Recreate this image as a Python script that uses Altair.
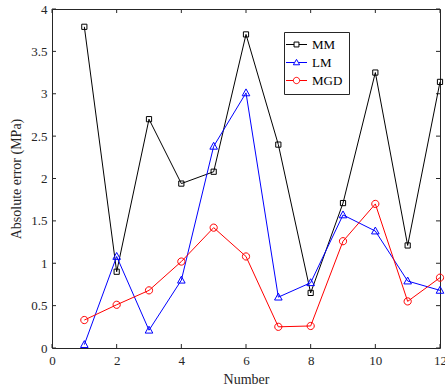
import altair as alt
import pandas as pd

numbers = list(range(1, 13))
mm = [3.79, 0.90, 2.70, 1.94, 2.08, 3.70, 2.40, 0.65, 1.71, 3.25, 1.21, 3.14]
lm = [0.04, 1.08, 0.21, 0.80, 2.38, 3.01, 0.60, 0.77, 1.57, 1.38, 0.79, 0.68]
mgd = [0.33, 0.51, 0.68, 1.02, 1.42, 1.08, 0.25, 0.26, 1.26, 1.70, 0.55, 0.83]
series_names = ["MM", "LM", "MGD"]
series_colors = ["#000000", "#0000ff", "#ff0000"]
x_ticks = [0, 2, 4, 6, 8, 10, 12]
y_ticks = [0, 0.5, 1, 1.5, 2, 2.5, 3, 3.5, 4]

rows = []
for name, vals in zip(series_names, [mm, lm, mgd]):
    for n, v in zip(numbers, vals):
        rows.append({"Number": n, "value": v, "series": name})
df = pd.DataFrame(rows)
xt_df = pd.DataFrame({"t": x_ticks})
yt_df = pd.DataFrame({"t": y_ticks})

W, H = 388, 339
FONT = "Liberation Serif"
AX = "#262626"
TK = 4

marker_paths = [
    "M-0.65,-0.65L0.65,-0.65L0.65,0.65L-0.65,0.65Z",
    "M0,-1L0.95,0.72L-0.95,0.72Z",
    "M0.9,0A0.9,0.9,0,1,1,-0.9,0A0.9,0.9,0,1,1,0.9,0Z",
]
leg_sq = "M-3,0L-0.7,0M0.7,0L3,0M-0.7,-0.7L0.7,-0.7L0.7,0.7L-0.7,0.7Z"
leg_tri = "M-3,0L-0.6,0M0.6,0L3,0M0,-0.9L0.9,0.65L-0.9,0.65Z"
leg_cir = "M-3,0L-0.9,0M0.9,0L3,0M0.9,0A0.9,0.9,0,1,1,-0.9,0A0.9,0.9,0,1,1,0.9,0Z"
shape_expr = (
    f"datum.value === 'MM' ? '{leg_sq}' : datum.value === 'LM' ? '{leg_tri}' : '{leg_cir}'"
)

legend = alt.Legend(
    title=None,
    orient="none",
    legendX=232,
    legendY=23,
    strokeColor=AX,
    fillColor="white",
    padding=6,
    labelFont=FONT,
    labelFontSize=13,
    labelColor="black",
    labelOffset=9,
    rowPadding=4,
    symbolSize=49,
    symbolStrokeWidth=1,
    symbolFillColor="transparent",
    symbolType=alt.ExprRef(expr=shape_expr),
)

xs = alt.Scale(domain=[0, 12], nice=False, zero=False)
ys = alt.Scale(domain=[0, 4], nice=False, zero=True)
cscale = alt.Scale(domain=series_names, range=series_colors)
color_leg = alt.Color("series:N", scale=cscale, legend=legend)

x_main = alt.X("Number:Q", scale=xs, axis=alt.Axis(
    orient="bottom", values=x_ticks, tickSize=0, domain=False, grid=False,
    labelFont=FONT, labelFontSize=13, labelColor=AX, labelPadding=6, labelFlush=False,
    title="Number", titleFont=FONT, titleFontSize=14, titleFontWeight="normal",
    titleColor=AX, titlePadding=5))
y_main = alt.Y("value:Q", scale=ys, axis=alt.Axis(
    orient="left", values=y_ticks, tickSize=0, domain=False, grid=False, format="~g",
    labelFont=FONT, labelFontSize=13, labelColor=AX, labelPadding=5, labelFlush=False,
    title="Absolute error (MPa)", titleFont=FONT, titleFontSize=14, titleFontWeight="normal",
    titleColor=AX, titlePadding=7))

lines = alt.Chart(df).mark_line(strokeWidth=1).encode(
    x=x_main, y=y_main, color=color_leg, detail="series:N")

point_layers = []
for name, col, path in zip(series_names, series_colors, marker_paths):
    point_layers.append(
        alt.Chart(df).transform_filter(alt.datum.series == name)
        .mark_point(filled=False, size=64, strokeWidth=1, opacity=1, color=col, shape=path)
        .encode(x=alt.X("Number:Q", scale=xs), y=alt.Y("value:Q", scale=ys))
    )

xtick_x = alt.X("t:Q", scale=xs)
ytick_y = alt.Y("t:Q", scale=ys)
tick_bottom = alt.Chart(xt_df).mark_rule(color=AX, strokeWidth=1).encode(
    x=xtick_x, y=alt.value(H), y2=alt.value(H - TK))
tick_top = alt.Chart(xt_df).mark_rule(color=AX, strokeWidth=1).encode(
    x=xtick_x, y=alt.value(0), y2=alt.value(TK))
tick_left = alt.Chart(yt_df).mark_rule(color=AX, strokeWidth=1).encode(
    y=ytick_y, x=alt.value(0), x2=alt.value(TK))
tick_right = alt.Chart(yt_df).mark_rule(color=AX, strokeWidth=1).encode(
    y=ytick_y, x=alt.value(W), x2=alt.value(W - TK))

chart = alt.layer(tick_bottom, tick_top, tick_left, tick_right, lines, *point_layers).properties(
    width=W, height=H,
    autosize=alt.AutoSizeParams(type="none"),
    padding={"left": 52, "top": 9, "right": 5, "bottom": 41},
    background="white",
).configure_view(stroke=AX, strokeWidth=1)

chart.save("out.html", embed_options={"renderer": "svg", "actions": False})
